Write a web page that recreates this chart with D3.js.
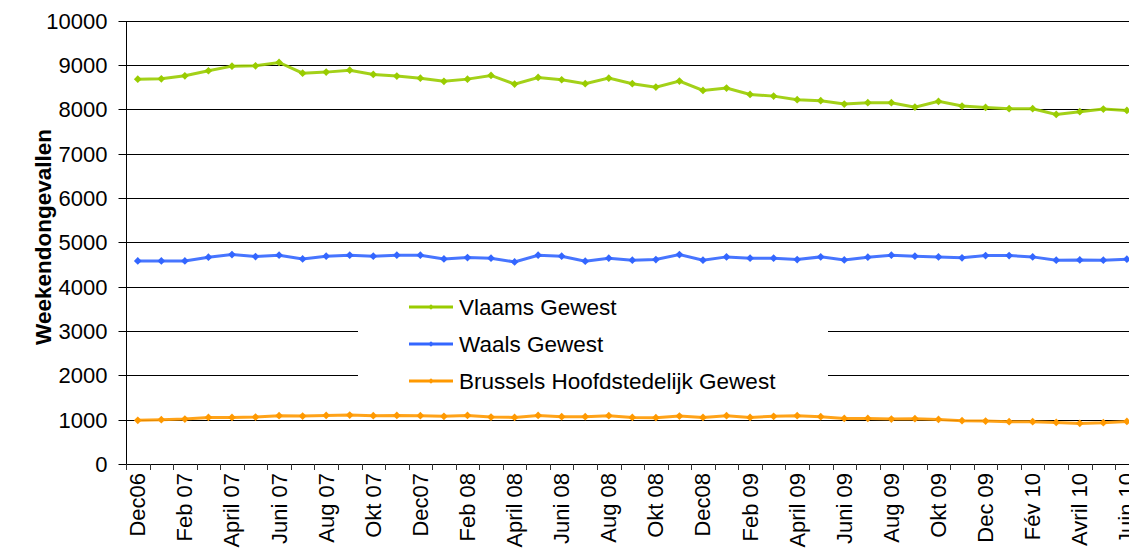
<!DOCTYPE html>
<html>
<head>
<meta charset="utf-8">
<script src="https://cdn.jsdelivr.net/npm/d3@7"></script>
<style>
  body { margin: 0; background: #fff; overflow: hidden; }
  text { font-family: Arial, "Liberation Sans", sans-serif; fill: #000; }
</style>
</head>
<body>
<div id="chart"></div>
<script>
// months Dec06 .. Jun 10
var months = ['Dec06','Jan 07','Feb 07','Maart 07','April 07','Mei 07','Juni 07','Juli 07','Aug 07','Sep 07',
  'Okt 07','Nov 07','Dec07','Jan 08','Feb 08','Maart 08','April 08','Mei 08','Juni 08','Juli 08',
  'Aug 08','Sep 08','Okt 08','Nov 08','Dec08','Jan 09','Feb 09','Maart 09','April 09','Mei 09',
  'Juni 09','Juli 09','Aug 09','Sep 09','Okt 09','Nov 09','Dec 09','Janv 10','Fév 10','Mars 10',
  'Avril 10','Mai 10','Juin 10'];

// only every second month gets a label
var tickLabels = ['Dec06','Feb 07','April 07','Juni 07','Aug 07','Okt 07','Dec07','Feb 08','April 08','Juni 08',
  'Aug 08','Okt 08','Dec08','Feb 09','April 09','Juni 09','Aug 09','Okt 09','Dec 09','Fév 10','Avril 10','Juin 10'];

var yTicks = [0,1000,2000,3000,4000,5000,6000,7000,8000,9000,10000];

var vlaams = [8678,8686,8754,8867,8971,8979,9054,8813,8836,8880,8784,8746,8700,8630,8678,8761,8566,8716,8664,8574,
  8700,8574,8498,8634,8423,8476,8333,8295,8214,8191,8116,8146,8146,8047,8176,8070,8041,8011,8011,7883,
  7943,8002,7973];
var waals = [4579,4579,4579,4662,4723,4678,4707,4624,4685,4707,4685,4707,4707,4624,4655,4640,4557,4707,4685,4572,
  4640,4595,4610,4723,4595,4670,4640,4640,4610,4670,4602,4662,4707,4685,4670,4648,4700,4700,4670,4595,
  4602,4595,4617];
var brussels = [984,998,1013,1051,1051,1059,1088,1081,1096,1104,1088,1096,1088,1074,1096,1059,1051,1096,1066,1066,
  1088,1051,1043,1081,1051,1088,1051,1074,1088,1066,1028,1028,1013,1021,1006,976,968,953,953,938,
  916,931,961];

var seriesNames = ['Vlaams Gewest','Waals Gewest','Brussels Hoofdstedelijk Gewest'];
var seriesColors = ['#99cc00','#3366ff','#ff9900'];

var width = 1129, height = 552;
var plotLeft = 126, plotTop = 20.5, plotBottom = 464;

var svg = d3.select('#chart')
  .append('svg')
  .attr('width', width)
  .attr('height', height);

var x = d3.scaleBand()
  .domain(months)
  .range([plotLeft, plotLeft + 43 * 23.55]);

var y = d3.scaleLinear()
  .domain([0, 10000])
  .range([plotBottom, plotTop]);

// gridlines
svg.append('g')
  .selectAll('line')
  .data(yTicks.filter(d => d > 0))
  .enter()
  .append('line')
  .attr('x1', plotLeft)
  .attr('x2', width)
  .attr('y1', d => Math.round(y(d)) + 0.5)
  .attr('y2', d => Math.round(y(d)) + 0.5)
  .style('stroke', '#000')
  .style('stroke-width', 1);

// y axis
var yAxis = svg.append('g')
  .attr('transform', 'translate(' + (plotLeft + 0.5) + ',0)')
  .call(d3.axisLeft(y).tickValues(yTicks).tickSize(8).tickPadding(11).tickFormat(d3.format('d')));
yAxis.select('.domain').attr('d', 'M0,' + (Math.round(y(10000)) + 0.5) + 'V' + (Math.round(y(0)) + 0.5));
yAxis.selectAll('.tick').attr('transform', d => 'translate(0,' + (Math.round(y(d)) + 0.5) + ')');
yAxis.selectAll('text').style('font-size', '22px').attr('dy', '0.36em');

// x axis: ticks at band boundaries
var xg = svg.append('g');
xg.append('line')
  .attr('x1', plotLeft).attr('x2', width)
  .attr('y1', plotBottom + 0.5).attr('y2', plotBottom + 0.5)
  .style('stroke', '#000');
xg.selectAll('line.tk')
  .data(months)
  .enter()
  .append('line')
  .attr('class', 'tk')
  .attr('x1', d => Math.round(x(d)) + 0.5)
  .attr('x2', d => Math.round(x(d)) + 0.5)
  .attr('y1', plotBottom)
  .attr('y2', plotBottom + 6)
  .style('stroke', '#333');
xg.selectAll('text')
  .data(tickLabels)
  .enter()
  .append('text')
  .attr('transform', (d, i) => 'translate(' + (x(months[i * 2]) + x.bandwidth() / 2 + 7.5) + ',' + (plotBottom + 9) + ') rotate(-90)')
  .attr('text-anchor', 'end')
  .style('font-size', '22px')
  .text(d => d);

// y title
svg.append('text')
  .attr('transform', 'translate(51,237) rotate(-90)')
  .attr('text-anchor', 'middle')
  .style('font-size', '22.5px')
  .style('font-weight', 'bold')
  .text('Weekendongevallen');

// series
var allSeries = [vlaams, waals, brussels];
var line = d3.line()
  .x((d, i) => x(months[i]) + x.bandwidth() / 2)
  .y(d => y(d));
var diamond = d3.symbol().type(d3.symbolSquare).size(30);

allSeries.forEach(function(values, s) {
  var g = svg.append('g');
  g.append('path')
    .datum(values)
    .attr('d', line)
    .style('fill', 'none')
    .style('stroke', seriesColors[s])
    .style('stroke-width', 3)
    .style('stroke-opacity', 0.9);
  g.selectAll('path.pt')
    .data(values)
    .enter()
    .append('path')
    .attr('class', 'pt')
    .attr('d', diamond)
    .attr('transform', (d, i) => 'translate(' + (x(months[i]) + x.bandwidth() / 2) + ',' + y(d) + ') rotate(45)')
    .style('fill', seriesColors[s]);
});

// legend
var legend = svg.append('g');
legend.append('rect')
  .attr('x', 358).attr('y', 291)
  .attr('width', 470).attr('height', 104)
  .style('fill', '#fff');
var item = legend.selectAll('g.item')
  .data(seriesNames)
  .enter()
  .append('g')
  .attr('class', 'item')
  .attr('transform', (d, i) => 'translate(0,' + (307 + i * 37) + ')');
item.append('line')
  .attr('x1', 409).attr('x2', 453)
  .style('stroke', (d, i) => seriesColors[i])
  .style('stroke-width', 3);
item.append('path')
  .attr('d', d3.symbol().type(d3.symbolSquare).size(14))
  .attr('transform', 'translate(431,0) rotate(45)')
  .style('fill', (d, i) => seriesColors[i]);
item.append('text')
  .attr('x', 459)
  .attr('dy', '0.36em')
  .style('font-size', '22.5px')
  .text(d => d);
</script>
</body>
</html>
